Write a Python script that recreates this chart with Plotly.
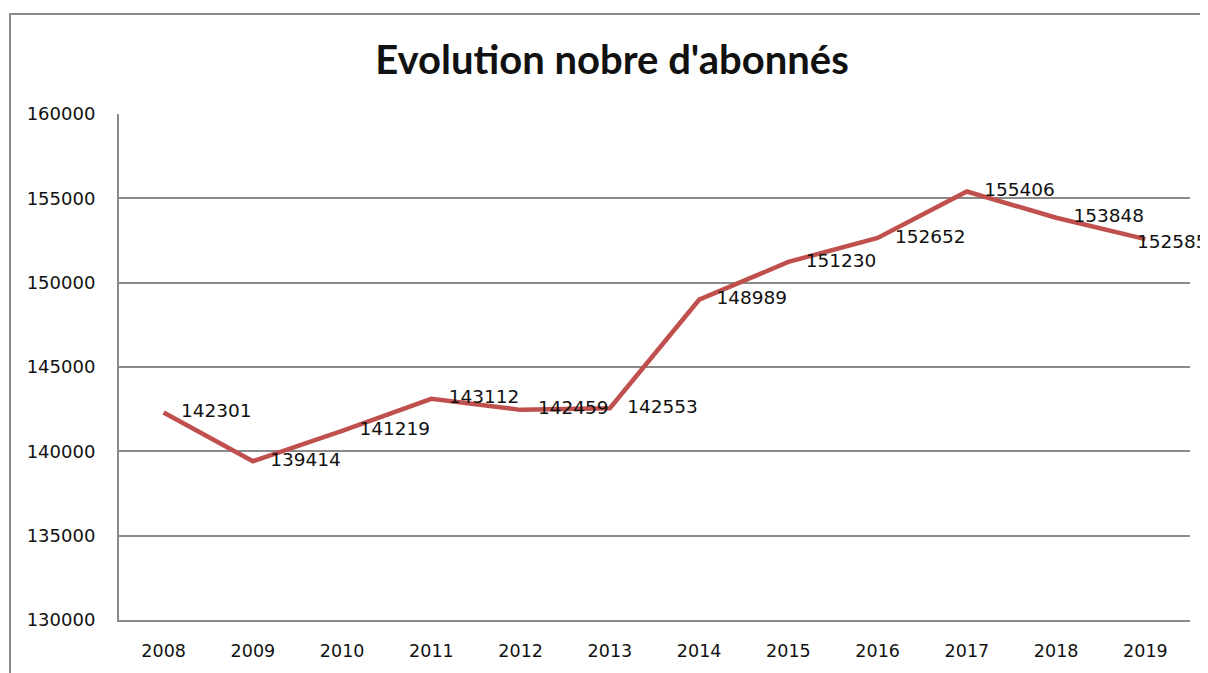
import plotly.graph_objects as go

years = ["2008", "2009", "2010", "2011", "2012", "2013", "2014", "2015", "2016", "2017", "2018", "2019"]
abonnes = [142301, 139414, 141219, 143112, 142459, 142553, 148989, 151230, 152652, 155406, 153848, 152585]
y_ticks = [130000, 135000, 140000, 145000, 150000, 155000, 160000]
title_text = "Evolution nobre d'abonnés"

# page body has an 8px margin, so the figure is drawn 8px in
OFF = 8
W, H = 1208 - OFF, 673 - OFF
L, T = 119 - OFF, 114 - OFF
pw, ph = 1071, 506
R = W - L - pw
B = H - T - ph

label_font = dict(family="DejaVu Sans", size=18.5, color="#111111")
labels = [str(v) for v in abonnes]
labels[-1] = ""  # last label placed separately (overlapping its point as in the original)

fig = go.Figure()
fig.add_trace(go.Scatter(
    x=list(range(len(years))), y=abonnes,
    mode="lines+markers+text",
    line=dict(color="#C0504D", width=4.5),
    marker=dict(size=26, color="rgba(0,0,0,0)"),
    text=labels,
    textposition="middle right",
    textfont=label_font,
    cliponaxis=False,
    hoverinfo="skip",
))

fig.add_annotation(x=len(years) - 1, y=abonnes[-1], text=str(abonnes[-1]), showarrow=False,
                   xanchor="left", yanchor="middle", xshift=-10, yshift=-2, font=label_font)

def px2paper_x(px):
    return (px - OFF - L) / pw

def px2paper_y(py):
    return (H - B - (py - OFF)) / ph

fig.add_shape(type="rect", xref="paper", yref="paper",
              x0=px2paper_x(10), x1=px2paper_x(1225),
              y0=px2paper_y(700), y1=px2paper_y(14),
              line=dict(color="#8a8a8a", width=2), fillcolor="rgba(0,0,0,0)", layer="below")

fig.update_layout(
    width=W, height=H,
    margin=dict(l=L, r=R, t=T, b=B),
    paper_bgcolor="white", plot_bgcolor="white",
    showlegend=False,
    title=dict(text=title_text, x=(612 - OFF) / W, xanchor="center", y=1 - (60 - OFF) / H, yanchor="middle",
               font=dict(family="Lato", size=40, color="#111111", weight="bold")),
    xaxis=dict(
        range=[-0.5, 11.5], tickmode="array", tickvals=list(range(len(years))), ticktext=years,
        showgrid=False, zeroline=False, showline=True, linecolor="#8a8a8a", linewidth=2,
        ticks="", ticklabelstandoff=14,
        tickfont=dict(family="DejaVu Sans", size=17.5, color="#111111"),
    ),
    yaxis=dict(
        range=[130000, 160000], tickmode="array", tickvals=y_ticks, ticktext=[str(v) for v in y_ticks],
        showgrid=True, gridcolor="#8a8a8a", gridwidth=1.5, zeroline=False,
        showline=True, linecolor="#8a8a8a", linewidth=2,
        ticks="", ticklabelstandoff=18,
        tickfont=dict(family="DejaVu Sans", size=18, color="#111111"),
    ),
)

fig.write_html("out.html")
